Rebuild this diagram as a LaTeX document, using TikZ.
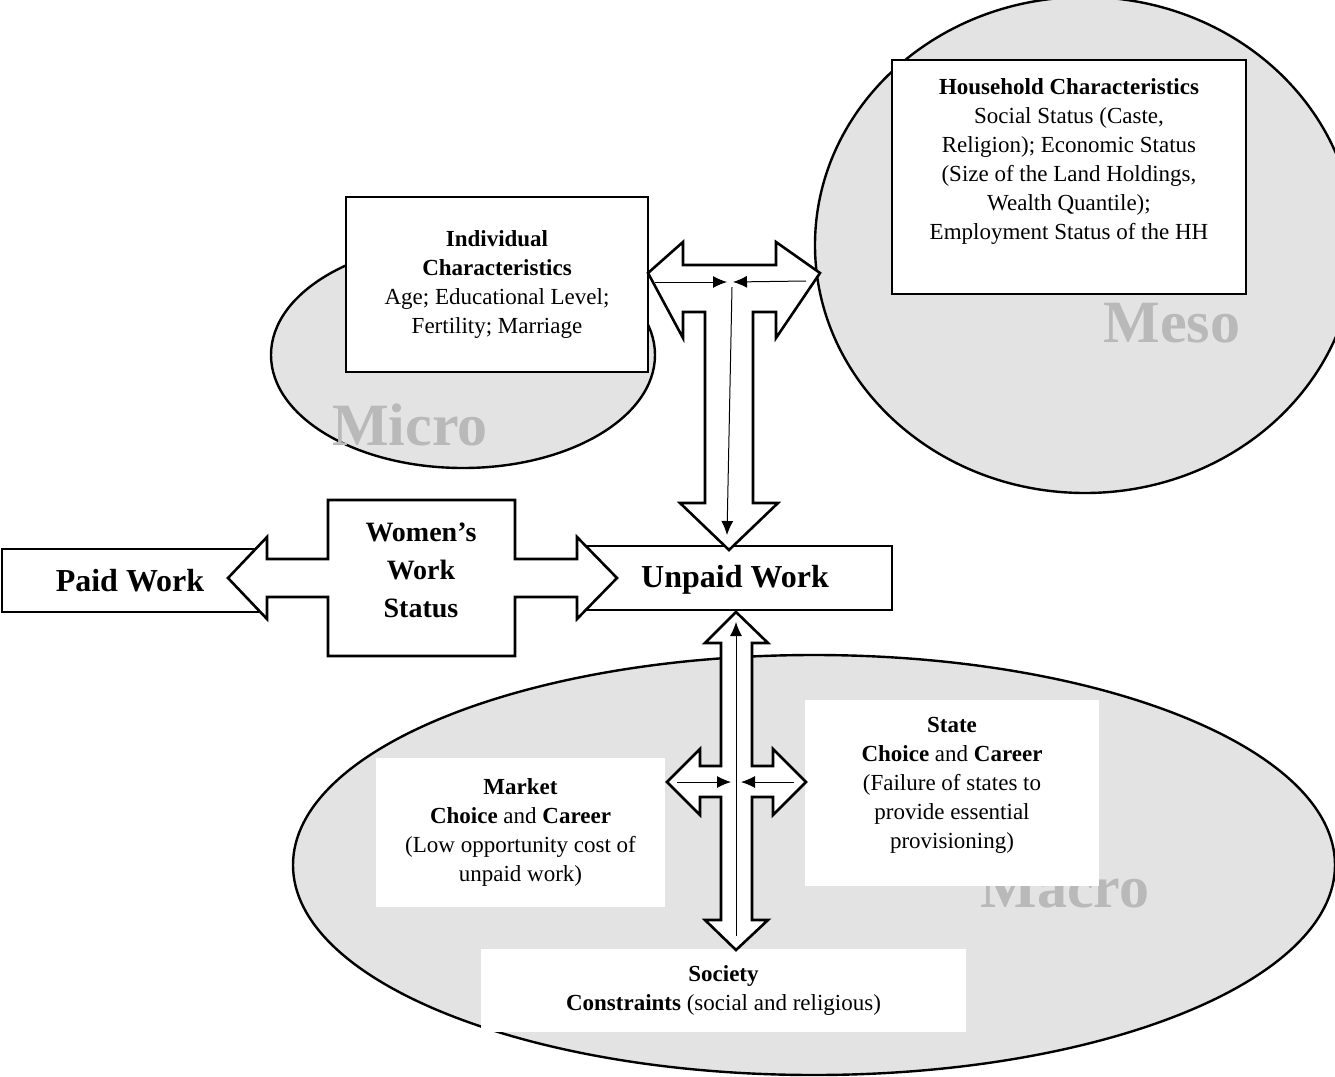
\documentclass[tikz,border=0pt]{standalone}
\usepackage{fontspec}
\setmainfont{Liberation Serif}
\usetikzlibrary{arrows.meta,shapes.geometric}
\begin{document}
\begin{tikzpicture}[x=0.5pt,y=-0.5pt,
  ell/.style={draw=black,line width=1.2pt,fill=gray!22},
  bx/.style={draw=black,line width=1.2pt,fill=white},
  arr/.style={draw=black,line width=1.3pt,fill=white,line join=miter},
  thin/.style={-{Latex[length=7pt,width=6pt]},line width=0.5pt},
  t/.style={font=\fontsize{11.5}{14.5}\selectfont,align=center},
  lvl/.style={font=\fontsize{30}{30}\selectfont\bfseries,text=gray!55}]
\useasboundingbox (0,0) rectangle (1335,1077);
\clip (0,0) rectangle (1335,1077);
% ellipses
\node[ell,ellipse,minimum width=192pt,minimum height=113pt,inner sep=0] (microE) at (463,355) {};
\draw[ell] (1085,245) ellipse [x radius=270, y radius=248];
\draw[ell] (814,865) ellipse [x radius=521, y radius=210];
\node[lvl] (micro) at (410,425) {Micro};
\node[lvl] (meso) at (1172,323) {Meso};
\node[lvl] (macro) at (1065,888) {Macro};
% boxes
\node[bx,minimum width=151pt,minimum height=87.5pt,t,inner sep=0] (ind) at (497,284.5)
 {\textbf{Individual}\\\textbf{Characteristics}\\Age; Educational Level;\\Fertility; Marriage};
\node[bx,minimum width=177pt,minimum height=117pt,inner sep=0] (hh) at (1069,177) {};
\node[t] (hht) at (1069,161)
 {\textbf{Household Characteristics}\\Social Status (Caste,\\Religion); Economic Status\\(Size of the Land Holdings,\\Wealth Quantile);\\Employment Status of the HH};
\node[bx,minimum width=128pt,minimum height=31.5pt,inner sep=0,font=\fontsize{16}{16}\selectfont\bfseries] (paid) at (130,580.5) {Paid Work};
\node[bx,minimum width=154.5pt,minimum height=32pt,inner sep=0] (unpaid) at (737.5,578) {};
% horizontal cross arrow
\draw[arr] (328,500)--(515,500)--(515,559)--(577,559)--(577,537)--(617,578)--(577,619)--(577,597)--(515,597)--(515,656)--(328,656)--(328,597)--(267,597)--(267,619)--(228,578)--(267,537)--(267,559)--(328,559)--cycle;
\node[font=\fontsize{14}{19}\selectfont\bfseries,align=center] (wws) at (421,570) {Women's\\Work\\Status};
\node[font=\fontsize{16}{16}\selectfont\bfseries] (uw) at (735,580) {Unpaid Work};
% top T arrow
\draw[arr] (648,273)--(683,242)--(683,265)--(776,265)--(776,242)--(820,273)--(776,338)--(776,312)--(753,312)--(753,503)--(778,503)--(729,550)--(680,503)--(705,503)--(705,312)--(683,312)--(683,338)--cycle;
\coordinate (a1) at (655,282); \coordinate (a2) at (727,282);
\coordinate (a3) at (806,281); \coordinate (a4) at (733,282);
\coordinate (a5) at (732,287); \coordinate (a6) at (727,535);
\draw[thin] (a1)--(a2); \draw[thin] (a3)--(a4); \draw[thin] (a5)--(a6);
% bottom
\node[fill=white,minimum width=144.5pt,minimum height=74.5pt,inner sep=0,t] (market) at (520.5,832.5)
 {\textbf{Market}\\\textbf{Choice} and \textbf{Career}\\(Low opportunity cost of\\unpaid work)};
\node[fill=white,minimum width=147pt,minimum height=93pt,inner sep=0] (state) at (952,793) {};
\node[t] (statet) at (952,785)
 {\textbf{State}\\\textbf{Choice} and \textbf{Career}\\(Failure of states to\\provide essential\\provisioning)};
\node[fill=white,minimum width=242.5pt,minimum height=41.5pt,inner sep=0,t] (soc) at (723.5,990.5)
 {\textbf{Society}\\\textbf{Constraints} (social and religious)};
\draw[arr] (736,612)--(768,643)--(752,643)--(752,766)--(773,766)--(773,749)--(806,782)--(773,815)--(773,797)--(752,797)--(752,920)--(768,920)--(736,950)--(705,920)--(721,920)--(721,797)--(700,797)--(700,815)--(667,782)--(700,749)--(700,766)--(721,766)--(721,643)--(705,643)--cycle;
\coordinate (b1) at (677,782); \coordinate (b2) at (731,782);
\coordinate (b3) at (794,782); \coordinate (b4) at (741,782);
\coordinate (b5) at (736,936); \coordinate (b6) at (736,622);
\draw[thin] (b1)--(b2); \draw[thin] (b3)--(b4); \draw[thin] (b5)--(b6);
\end{tikzpicture}
\end{document}
